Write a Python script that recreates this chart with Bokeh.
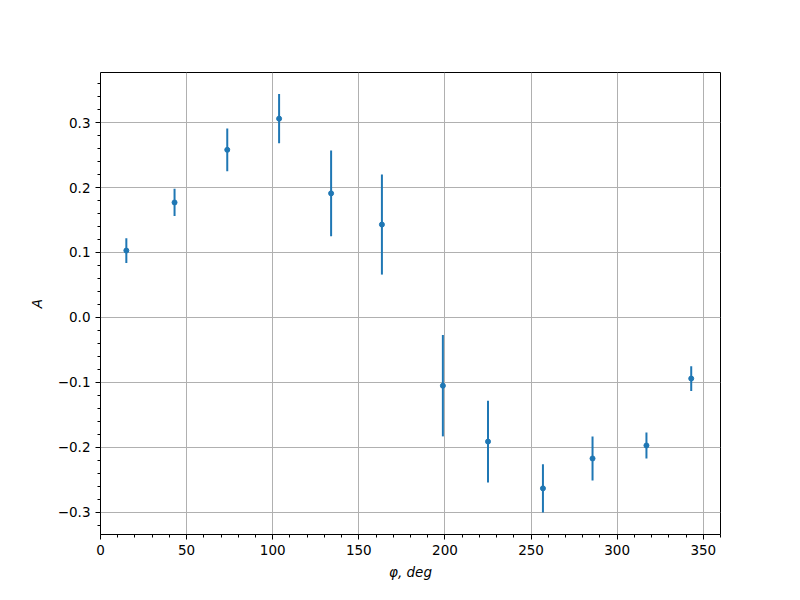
from bokeh.plotting import figure
from bokeh.models import ColumnDataSource, FixedTicker, CustomJSTickFormatter, Range1d
from bokeh.embed import file_html
from bokeh.resources import INLINE

phi = [15, 43, 73.6, 103.7, 133.9, 163.4, 198.8, 225, 256.9, 285.7, 317, 343]
A = [0.103, 0.177, 0.258, 0.306, 0.191, 0.143, -0.105, -0.191, -0.263, -0.217, -0.197, -0.094]
A_err = [0.019, 0.021, 0.033, 0.038, 0.066, 0.077, 0.078, 0.063, 0.037, 0.034, 0.020, 0.019]

x_ticks = [0, 50, 100, 150, 200, 250, 300, 350]
x_minor = list(range(0, 361, 10))
y_ticks = [-0.3, -0.2, -0.1, 0.0, 0.1, 0.2, 0.3]
y_minor = [round(-0.32 + 0.02 * i, 2) for i in range(36)]

src = ColumnDataSource(dict(
    x=phi, y=A,
    lo=[a - e for a, e in zip(A, A_err)],
    hi=[a + e for a, e in zip(A, A_err)],
))

p = figure(width=784, height=584, output_backend="svg", toolbar_location=None,
           x_range=Range1d(0, 360), y_range=Range1d(-0.334, 0.377),
           min_border_left=100, min_border_right=64, min_border_top=72, min_border_bottom=50)

p.segment(x0="x", y0="lo", x1="x", y1="hi", source=src, line_color="#1f77b4", line_width=2)
p.scatter(x="x", y="y", source=src, size=5, fill_color="#1f77b4", line_color="#1f77b4")

p.outline_line_color = "black"
p.outline_line_width = 1
p.outline_line_alpha = 1

p.xaxis.ticker = FixedTicker(ticks=x_ticks, minor_ticks=x_minor)
p.yaxis.ticker = FixedTicker(ticks=y_ticks, minor_ticks=y_minor)
p.yaxis.formatter = CustomJSTickFormatter(code="return tick.toFixed(1).replace('-', '\u2212');")
p.xaxis.formatter = CustomJSTickFormatter(code="return tick.toFixed(0);")

for ax in (p.xaxis, p.yaxis):
    ax.axis_line_color = None
    ax.major_tick_line_color = "black"
    ax.minor_tick_line_color = "black"
    ax.major_tick_out = 5
    ax.major_tick_in = 0
    ax.minor_tick_out = 3
    ax.minor_tick_in = 0
    ax.major_label_text_font = "DejaVu Sans"
    ax.major_label_text_font_size = "13.5px"
    ax.major_label_text_color = "black"
    ax.major_label_standoff = 5
    ax.axis_label_text_font = "DejaVu Sans"
    ax.axis_label_text_font_size = "13.5px"
    ax.axis_label_text_font_style = "italic"
    ax.axis_label_text_color = "black"

p.xaxis.axis_label = "\u03c6, deg"
p.yaxis.axis_label = "A"
p.xaxis.axis_label_standoff = 6
p.yaxis.axis_label_standoff = 10

p.xgrid.ticker = FixedTicker(ticks=x_ticks)
p.ygrid.ticker = FixedTicker(ticks=y_ticks)
p.grid.grid_line_color = "#b0b0b0"
p.grid.grid_line_width = 1

p.background_fill_color = "white"
p.border_fill_color = "white"

open("out.html", "w").write(file_html(p, INLINE))
